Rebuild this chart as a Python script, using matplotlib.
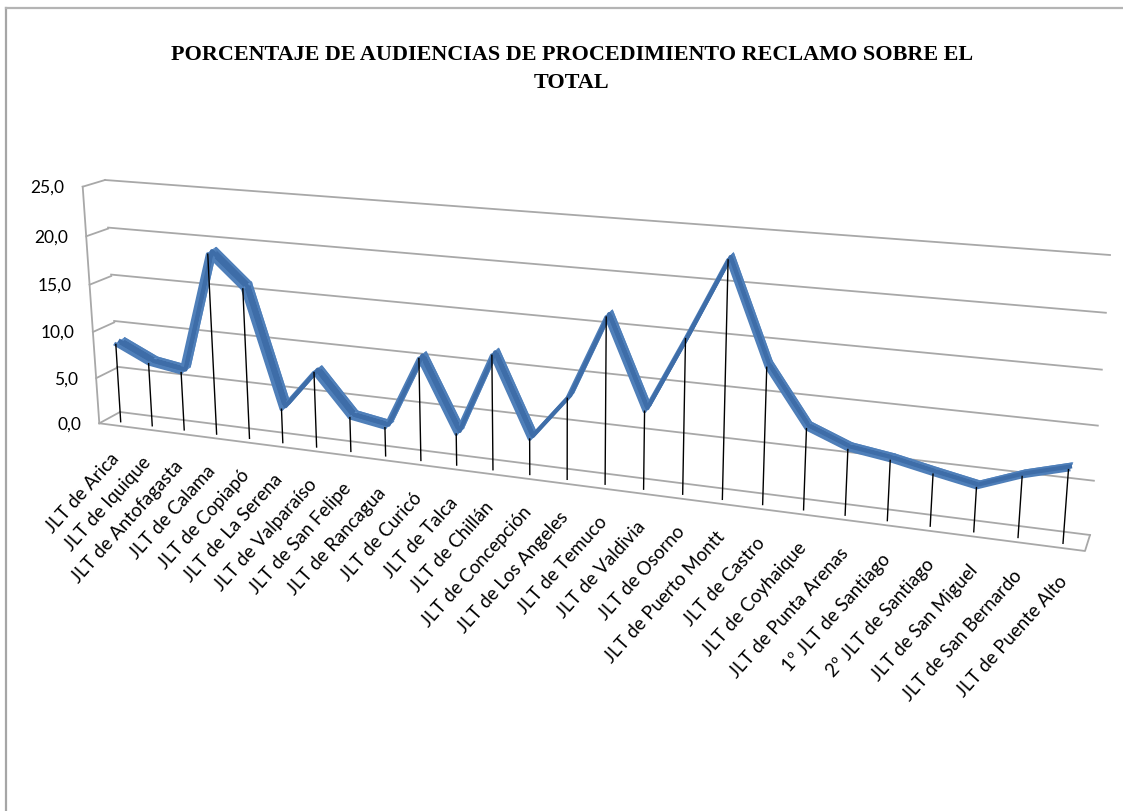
import matplotlib
matplotlib.use('Agg')
import matplotlib.pyplot as plt
import matplotlib.transforms as mtransforms
import numpy as np

# Datos
juzgados = ['JLT de Arica', 'JLT de Iquique', 'JLT de Antofagasta', 'JLT de Calama',
            'JLT de Copiapó', 'JLT de La Serena', 'JLT de Valparaíso', 'JLT de San Felipe',
            'JLT de Rancagua', 'JLT de Curicó', 'JLT de Talca', 'JLT de Chillán',
            'JLT de Concepción', 'JLT de Los Angeles', 'JLT de Temuco', 'JLT de Valdivia',
            'JLT de Osorno', 'JLT de Puerto Montt', 'JLT de Castro', 'JLT de Coyhaique',
            'JLT de Punta Arenas', '1º JLT de Santiago', '2º JLT de Santiago',
            'JLT de San Miguel', 'JLT de San Bernardo', 'JLT de Puente Alto']
porcentaje = [8.3, 6.65, 6.1, 18.7, 15.5, 3.5, 7.7, 3.5, 2.9, 10.3, 3.15, 11.4, 3.55,
              8.0, 16.2, 7.6, 14.9, 22.5, 13.0, 7.7, 6.2, 5.65, 4.85, 4.1, 5.6, 6.7]
ticks_y = [0, 5, 10, 15, 20, 25]
titulo = 'PORCENTAJE DE AUDIENCIAS DE PROCEDIMIENTO RECLAMO SOBRE EL\nTOTAL'


class Plano(mtransforms.Transform):
    """Homografía de un rectángulo de datos a un cuadrilátero en píxeles."""
    input_dims = 2
    output_dims = 2
    has_inverse = False

    def __init__(self, origen, destino):
        super().__init__()
        a, b = [], []
        for (x, y), (u, v) in zip(origen, destino):
            a.append([x, y, 1, 0, 0, 0, -u * x, -u * y])
            a.append([0, 0, 0, x, y, 1, -v * x, -v * y])
            b += [u, v]
        self.h = np.append(np.linalg.solve(np.array(a, float), np.array(b, float)), 1).reshape(3, 3)

    def transform_non_affine(self, values):
        values = np.asarray(values, float)
        p = np.c_[values, np.ones(len(values))] @ self.h.T
        return p[:, :2] / p[:, 2:]


fig = plt.figure(figsize=(11.23, 8.11), dpi=100)
ax = fig.add_axes([0, 0, 1, 1])
ax.set_xlim(0, 1123)
ax.set_ylim(811, 0)
ax.axis('off')
ax.autoscale(False)

n = len(juzgados)
x = np.arange(n)
y = np.array(porcentaje)
y_max = ticks_y[-1]
rect = [(0, 0), (1, 0), (1, y_max), (0, y_max)]
rect_serie = [(0, 0), (n - 1, 0), (n - 1, y_max), (0, y_max)]

fondo = Plano(rect, [(120, 412), (1090, 535), (1110, 255), (105, 180)])
lateral = Plano(rect, [(120, 412), (99.3, 423.3), (82.7, 186.7), (105, 180)])
serie = Plano(rect_serie, [(120.7, 421.7), (1063, 543.3), (1084, 260), (105.7, 183.7)])
serie_atras = Plano(rect_serie, [(129.7, 415.7), (1066, 537.3), (1087, 254), (114.7, 177.7)])

gris = '#a8a8a8'
azul = '#3e6da8'

# Marco de la imagen
ax.plot([6, 6], [8, 811], color='#a6a6a6', lw=1.6)
ax.plot([6, 1123], [8, 8], color='#b4b4b4', lw=1.6)

# Paredes y piso
for t in ticks_y:
    ax.plot([0, 1], [t, t], color=gris, lw=1.3, transform=fondo + ax.transData)
    ax.plot([0, 1], [t, t], color=gris, lw=1.3, transform=lateral + ax.transData)
ax.plot([1, 1], [0, y_max], color=gris, lw=1.3, transform=lateral + ax.transData)
ax.plot([99.3, 1085, 1090], [423.3, 551, 535], color=gris, lw=1.3)

# Cinta 3D de la serie
frente = serie.transform(np.c_[x, y])
atras = serie_atras.transform(np.c_[x, y])
for i in range(n - 1):
    poli = np.array([frente[i], frente[i + 1], atras[i + 1], atras[i]])
    ax.fill(poli[:, 0], poli[:, 1], facecolor=azul, edgecolor='#5f8fc8', lw=1.6, zorder=3)
medio = (frente + atras) / 2
ax.plot(frente[:, 0], frente[:, 1], color='#4f7fb9', lw=2.8, zorder=3, solid_joinstyle='round')
ax.plot(atras[:, 0], atras[:, 1], color='#4f7fb9', lw=1.6, zorder=3, solid_joinstyle='round')
ax.plot(medio[:, 0], medio[:, 1], color=azul, lw=3.0, zorder=3, solid_joinstyle='round')

# Líneas de proyección
for xi, yi in zip(x, y):
    ax.plot([xi, xi], [0, yi], color='black', lw=1.0, transform=serie + ax.transData, zorder=4)

# Textos
for t, (px, py) in zip(ticks_y, lateral.transform(np.c_[np.ones(len(ticks_y)), ticks_y])):
    ax.text(px - 18, py + 1, f'{t:.1f}'.replace('.', ','), ha='right', va='center',
            family='Lato', fontsize=12.5, color='black')

for i, (nombre, (px, py)) in enumerate(zip(juzgados, serie.transform(np.c_[x, np.zeros(n)]))):
    f = i / (n - 1)
    ax.text(px - 11 + 6 * f, py + 28 + 2 * f, nombre, ha='right', va='top',
            rotation=48, rotation_mode='anchor',
            family='Lato', fontsize=13.4, color='black')

ax.text(572, 69, titulo, ha='center', va='center', family='Liberation Serif',
        fontweight='bold', fontsize=15.9, linespacing=1.55, color='black')

fig.savefig('out.png', dpi=100)
